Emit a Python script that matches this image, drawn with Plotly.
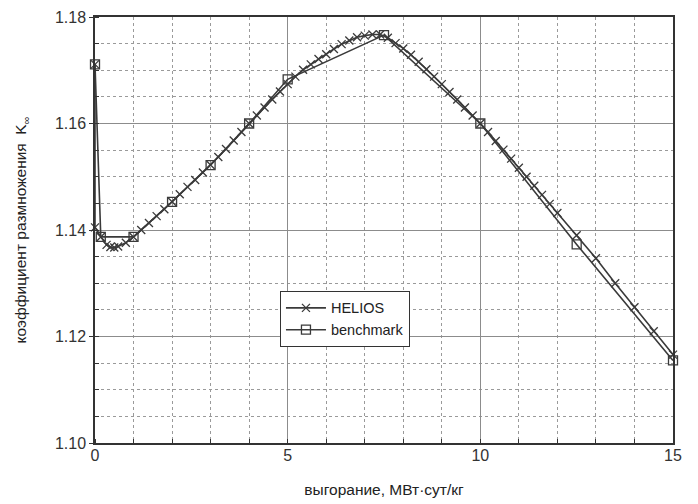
import plotly.graph_objects as go

# HELIOS calculation (burnup MWd/kg, k-inf)
helios_x = [0, 0, 0.15, 0.3, 0.4, 0.5, 0.6, 0.8, 1.0, 1.2, 1.4, 1.6, 1.8, 2.0,
            2.2, 2.4, 2.6, 2.8, 3.0, 3.2, 3.4, 3.6, 3.8, 4.0, 4.2, 4.4, 4.6, 4.8,
            5.0, 5.2, 5.4, 5.6, 5.8, 6.0, 6.2, 6.4, 6.6, 6.8, 7.0, 7.2, 7.4, 7.6,
            7.8, 8.0, 8.2, 8.4, 8.6, 8.8, 9.0, 9.2, 9.4, 9.6, 9.8, 10.0, 10.2,
            10.4, 10.6, 10.8, 11.0, 11.2, 11.4, 11.6, 11.8, 12.0, 12.5, 13.0,
            13.5, 14.0, 14.5, 15.0]
helios_k = [1.1711, 1.1405, 1.1387, 1.1372, 1.1368, 1.1367, 1.1369, 1.1376,
            1.1387, 1.1400, 1.1413, 1.1426, 1.1439, 1.1453, 1.1467, 1.1481,
            1.1494, 1.1508, 1.1522, 1.1537, 1.1552, 1.1568, 1.1584, 1.1600,
            1.1615, 1.1630, 1.1645, 1.1660, 1.1674, 1.1688, 1.1701, 1.1711,
            1.1721, 1.1730, 1.1740, 1.1749, 1.1756, 1.1762, 1.1765, 1.1767,
            1.1767, 1.1761, 1.1751, 1.1741, 1.1729, 1.1716, 1.1702, 1.1688,
            1.1674, 1.1659, 1.1645, 1.1630, 1.1615, 1.1600, 1.1584, 1.1567,
            1.1551, 1.1534, 1.1517, 1.1500, 1.1483, 1.1466, 1.1449, 1.1432,
            1.1390, 1.1347, 1.1300, 1.1255, 1.1210, 1.1166]

# Benchmark
bench_x = [0, 0.15, 1, 2, 3, 4, 5, 7.5, 10, 12.5, 15]
bench_k = [1.1711, 1.1387, 1.1387, 1.1453, 1.1522, 1.1600, 1.1683, 1.1766,
           1.1600, 1.1373, 1.1155]

x_ticks = [0, 5, 10, 15]
y_ticks = [1.10, 1.12, 1.14, 1.16, 1.18]

FONT = "Liberation Sans, Arial, sans-serif"
LINE = "#3a3a3a"

fig = go.Figure()
fig.add_trace(go.Scatter(
    x=helios_x, y=helios_k, mode="lines+markers", name="HELIOS",
    line=dict(color=LINE, width=1.6),
    marker=dict(symbol="x-thin", size=8, line=dict(color=LINE, width=1.3)),
    cliponaxis=False,
))
fig.add_trace(go.Scatter(
    x=bench_x, y=bench_k, mode="lines+markers", name="benchmark",
    line=dict(color=LINE, width=1.6),
    marker=dict(symbol="square-open", size=9, color=LINE,
                line=dict(color=LINE, width=1.3)),
    cliponaxis=False,
))

fig.update_layout(
    width=698, height=504,
    margin=dict(l=87, r=33, t=9, b=69, autoexpand=False),
    paper_bgcolor="white", plot_bgcolor="white",
    font=dict(family=FONT, color="#333"),
    showlegend=True,
    legend=dict(
        x=0.32, y=0.357, xanchor="left", yanchor="top",
        bgcolor="white", bordercolor="#333", borderwidth=1,
        font=dict(size=14.5, family=FONT, color="#222"),
        itemwidth=40, tracegroupgap=0,
    ),
)

fig.update_xaxes(
    range=[0, 15], tickvals=x_ticks, ticktext=[str(v) for v in x_ticks],
    tickfont=dict(size=16, family=FONT, color="#333"),
    showgrid=True, gridcolor="#8c8c8c", gridwidth=1.3,
    showline=True, linecolor="#333", linewidth=1.5, mirror=True,
    ticks="", zeroline=False, automargin=False, ticklabelstandoff=-3,
    minor=dict(dtick=1, showgrid=True, gridcolor="#9a9a9a", griddash="dot",
               gridwidth=1.2, ticks="inside", ticklen=4, tickcolor="#333"),
    title=dict(text="выгорание, МВт·сут/кг",
               font=dict(size=15.5, family=FONT, color="#222"), standoff=21),
)
fig.update_yaxes(
    range=[1.10, 1.18], tickvals=y_ticks, ticktext=[f"{v:.2f}" for v in y_ticks],
    tickfont=dict(size=16, family=FONT, color="#333"),
    showgrid=True, gridcolor="#8c8c8c", gridwidth=1.3,
    showline=True, linecolor="#333", linewidth=1.5, mirror=True,
    ticks="outside", ticklen=4, tickcolor="#333", zeroline=False,
    automargin=False,
    minor=dict(dtick=0.005, showgrid=True, gridcolor="#9a9a9a", griddash="dot",
               gridwidth=1.2, ticks="inside", ticklen=4, tickcolor="#333"),
    title=dict(text="коэффициент размножения  K<sub>∞</sub>",
               font=dict(size=15.5, family=FONT, color="#222"), standoff=24),
)

fig.write_html("out.html")
